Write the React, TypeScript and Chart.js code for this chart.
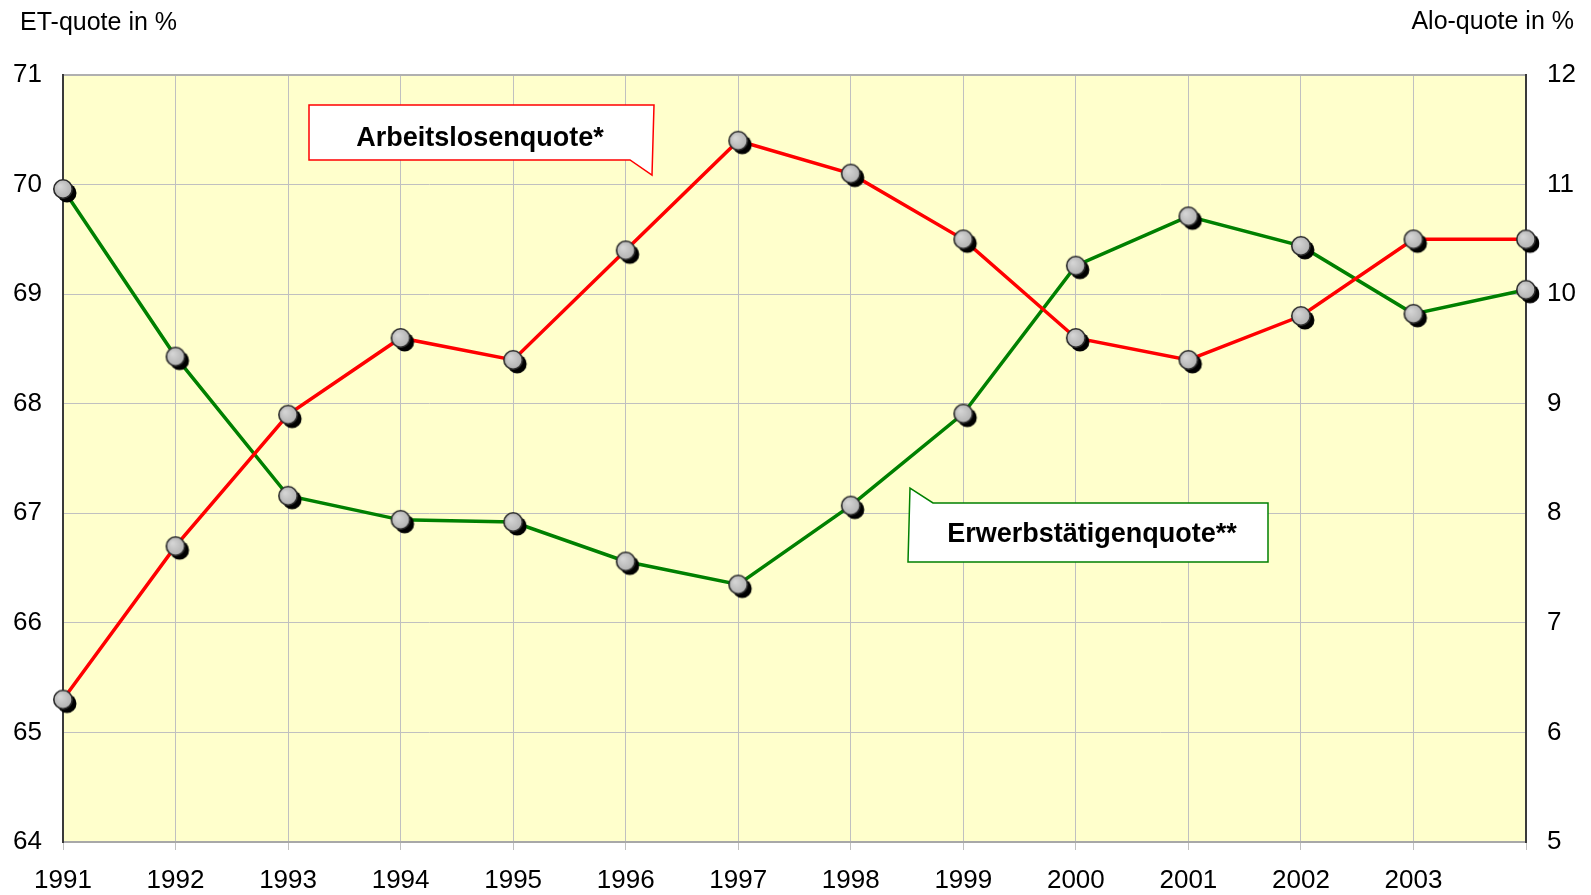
import React, { useEffect, useRef } from "react";
import { Chart, registerables } from "chart.js";

Chart.register(...registerables);

const years = ["1991", "1992", "1993", "1994", "1995", "1996", "1997", "1998", "1999", "2000", "2001", "2002", "2003", "2004"];
const unlabeledYears = ["2004"];
const etQuote = [69.96, 68.43, 67.16, 66.94, 66.92, 66.56, 66.35, 67.07, 67.91, 69.26, 69.71, 69.44, 68.82, 69.04];
const aloQuote = [6.3, 7.7, 8.9, 9.6, 9.4, 10.4, 11.4, 11.1, 10.5, 9.6, 9.4, 9.8, 10.5, 10.5];
const etRange = [64, 71];
const aloRange = [5, 12];
const leftTitle = "ET-quote in %";
const rightTitle = "Alo-quote in %";
const aloLabel = "Arbeitslosenquote*";
const etLabel = "Erwerbstätigenquote**";

const FONT = "'Liberation Sans', Arial, Helvetica, sans-serif";

function makeMarker(): HTMLCanvasElement {
  const r = 10;
  const off = 4;
  const size = 2 * (r + off + 2);
  const c = document.createElement("canvas");
  c.width = size;
  c.height = size;
  const g = c.getContext("2d")!;
  const cx = size / 2;
  g.beginPath();
  g.arc(cx + off, cx + off, r - 0.5, 0, Math.PI * 2);
  g.fillStyle = "#000";
  g.fill();
  g.beginPath();
  g.arc(cx, cx, r - 0.8, 0, Math.PI * 2);
  const grad = g.createRadialGradient(cx - 3, cx - 3, 1, cx, cx, r);
  grad.addColorStop(0, "#d4d4d4");
  grad.addColorStop(1, "#b0b0b0");
  g.fillStyle = grad;
  g.fill();
  g.lineWidth = 1.6;
  g.strokeStyle = "#2a2a2a";
  g.stroke();
  return c;
}

const decorPlugin = {
  id: "decor",
  beforeDraw(chart: any) {
    const { ctx, chartArea } = chart;
    ctx.save();
    ctx.fillStyle = "#FFFFCC";
    ctx.fillRect(chartArea.left, chartArea.top, chartArea.right - chartArea.left, chartArea.bottom - chartArea.top);
    ctx.restore();
  },
  afterDraw(chart: any) {
    const { ctx } = chart;
    ctx.save();
    // axis titles
    ctx.fillStyle = "#000";
    ctx.font = `25px ${FONT}`;
    ctx.textBaseline = "alphabetic";
    ctx.textAlign = "left";
    ctx.fillText(leftTitle, 20, 30);
    ctx.textAlign = "right";
    ctx.fillText(rightTitle, 1574, 29);

    // red callout
    ctx.beginPath();
    ctx.moveTo(309, 105);
    ctx.lineTo(654, 105);
    ctx.lineTo(652, 175);
    ctx.lineTo(630, 160);
    ctx.lineTo(309, 160);
    ctx.closePath();
    ctx.fillStyle = "#fff";
    ctx.fill();
    ctx.lineWidth = 1.5;
    ctx.strokeStyle = "#FF0000";
    ctx.stroke();
    ctx.fillStyle = "#000";
    ctx.font = `bold 27px ${FONT}`;
    ctx.textAlign = "center";
    ctx.fillText(aloLabel, 480, 146);

    // green callout
    ctx.beginPath();
    ctx.moveTo(908, 562);
    ctx.lineTo(910, 488);
    ctx.lineTo(933, 503);
    ctx.lineTo(1268, 503);
    ctx.lineTo(1268, 562);
    ctx.closePath();
    ctx.fillStyle = "#fff";
    ctx.fill();
    ctx.lineWidth = 1.5;
    ctx.strokeStyle = "#008000";
    ctx.stroke();
    ctx.fillStyle = "#000";
    ctx.fillText(etLabel, 1092, 542);
    ctx.restore();
  },
};

export default function App() {
  const ref = useRef<HTMLCanvasElement>(null);
  useEffect(() => {
    document.body.style.margin = "0";
    const marker = makeMarker();
    const chart = new Chart(ref.current!, {
      type: "line",
      data: {
        labels: years,
        datasets: [
          {
            label: aloLabel,
            data: aloQuote,
            yAxisID: "y1",
            borderColor: "#FF0000",
            borderWidth: 3.5,
            pointStyle: marker as any,
            pointRadius: 10,
            tension: 0,
          },
          {
            label: etLabel,
            data: etQuote,
            yAxisID: "y",
            borderColor: "#008000",
            borderWidth: 3.5,
            pointStyle: marker as any,
            pointRadius: 10,
            tension: 0,
          },
        ],
      },
      options: {
        animation: false,
        responsive: false,
        events: [],
        layout: { padding: { top: 75, left: 0, right: 0, bottom: 0 } },
        plugins: { legend: { display: false }, tooltip: { enabled: false } },
        scales: {
          x: {
            offset: false,
            grid: { color: "#c0c0c0", lineWidth: 1, tickLength: 8, drawTicks: true },
            border: { color: "#a8a8a8", width: 2 },
            ticks: {
              autoSkip: false,
              maxRotation: 0,
              padding: 15,
              color: "#000",
              font: { family: FONT, size: 26 },
              callback: (v: any, i: number) => (unlabeledYears.includes(years[i]) ? "" : years[i]),
            },
            afterFit: (s: any) => {
              s.height = 53;
            },
          },
          y: {
            position: "left",
            min: etRange[0],
            max: etRange[1],
            grid: {
              color: (c: any) => (c.tick && c.tick.value === etRange[1] ? "#b0b0b0" : "#c0c0c0"),
              lineWidth: (c: any) => (c.tick && c.tick.value === etRange[1] ? 2 : 1),
              drawTicks: false,
            },
            border: { color: "#3a3a3a", width: 2 },
            ticks: { stepSize: 1, padding: 21, color: "#000", font: { family: FONT, size: 26 } },
            afterFit: (s: any) => {
              s.width = 63;
            },
          },
          y1: {
            position: "right",
            min: aloRange[0],
            max: aloRange[1],
            grid: { drawOnChartArea: false, drawTicks: false },
            border: { color: "#3a3a3a", width: 2 },
            ticks: { stepSize: 1, padding: 21, color: "#000", font: { family: FONT, size: 26 } },
            afterFit: (s: any) => {
              s.width = 65;
            },
          },
        },
      },
      plugins: [decorPlugin],
    });
    return () => chart.destroy();
  }, []);
  return (
    <div style={{ position: "absolute", left: 0, top: 0, width: 1591, height: 895, background: "#fff" }}>
      <canvas ref={ref} width={1591} height={895} />
    </div>
  );
}
